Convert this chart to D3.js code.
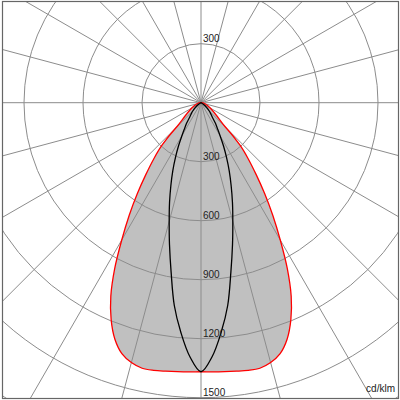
<!DOCTYPE html>
<html>
<head>
<meta charset="utf-8">
<script src="https://cdn.jsdelivr.net/npm/d3@7"></script>
<style>
  html, body { margin: 0; padding: 0; background: #fff; }
  svg { display: block; }
</style>
</head>
<body>
<div id="chart"></div>
<script>
// gamma angles (deg from nadir), 2.5 deg steps
const gammaAngles = [0, 2.5, 5, 7.5, 10, 12.5, 15, 17.5, 20, 22.5, 25, 27.5, 30, 32.5, 35, 37.5,
  40, 42.5, 45, 47.5, 50, 52.5, 55, 57.5, 60, 62.5, 65];
// C0-C180 plane (red, filled)
const planeC0 = [1368, 1370, 1373, 1377, 1382, 1383, 1368, 1338, 1280, 1194, 1085, 950, 806, 680,
  565, 461, 375, 295, 180, 0, 0, 0, 0, 0, 0, 0, 0];
// C90-C270 plane (black)
const planeC90 = [1368, 1293, 1173, 1040, 875, 740, 625, 532, 448, 375, 307, 248, 194, 155,
  128, 98, 82, 70, 58, 47, 37, 28, 20, 12, 5, 0, 0];
const ringValues = [300, 600, 900, 1200, 1500, 1800];
const unitLabel = "cd/klm";

const W = 400, H = 400;
const cx = 201, cy = 102.7;

const r = d3.scaleLinear().domain([0, 1500]).range([0, 295]);

const svg = d3.select("#chart").append("svg")
    .attr("width", W)
    .attr("height", H)
    .attr("font-family", "'Liberation Sans', Arial, sans-serif")
    .attr("font-size", 10);

svg.append("clipPath").attr("id", "frame-clip")
  .append("rect")
    .attr("x", 2.5).attr("y", 1.5).attr("width", 396).attr("height", 397);

const plot = svg.append("g").attr("clip-path", "url(#frame-clip)");
const g = plot.append("g").attr("transform", `translate(${cx},${cy})`);

// build closed outline: right side out to the centre, then left side back
function outline(values) {
  const pts = [];
  let last = values.findIndex(v => v === 0);
  if (last < 0) last = values.length - 1;
  for (let i = 0; i <= last; i++) pts.push([Math.PI - gammaAngles[i] * Math.PI / 180, r(values[i])]);
  for (let i = last - 1; i >= 1; i--) pts.push([Math.PI + gammaAngles[i] * Math.PI / 180, r(values[i])]);
  return pts;
}

const line = d3.lineRadial()
    .angle(d => d[0])
    .radius(d => d[1])
    .curve(d3.curveCatmullRomClosed.alpha(0.5));

// filled C0 curve under grid
g.append("path")
    .attr("d", line(outline(planeC0)))
    .attr("fill", "#c0c0c0")
    .attr("stroke", "none");

// grid: rings and spokes
g.selectAll("circle.ring")
  .data(ringValues)
  .join("circle")
    .attr("class", "ring")
    .attr("r", d => r(d))
    .attr("fill", "none")
    .attr("stroke", "#8c8c8c")
    .attr("stroke-width", 1);

g.selectAll("line.spoke")
  .data(d3.range(0, 180, 15))
  .join("line")
    .attr("class", "spoke")
    .attr("x1", d => -500 * Math.cos(d * Math.PI / 180))
    .attr("y1", d => -500 * Math.sin(d * Math.PI / 180))
    .attr("x2", d => 500 * Math.cos(d * Math.PI / 180))
    .attr("y2", d => 500 * Math.sin(d * Math.PI / 180))
    .attr("stroke", "#8c8c8c")
    .attr("stroke-width", 1);

// curves
g.append("path")
    .attr("d", line(outline(planeC0)))
    .attr("fill", "none")
    .attr("stroke", "#ff0000")
    .attr("stroke-width", 1.3);

g.append("path")
    .attr("d", line(outline(planeC90)))
    .attr("fill", "none")
    .attr("stroke", "#000")
    .attr("stroke-width", 1.3);

// ring labels above and below the centre (only those inside the frame)
const labels = ringValues.flatMap(v => [{v, s: -1}, {v, s: 1}])
    .filter(d => cy + d.s * r(d.v) - 2 > 12 && cy + d.s * r(d.v) - 2 < 398);
g.selectAll("text.lbl")
  .data(labels)
  .join("text")
    .attr("class", "lbl")
    .attr("x", 2)
    .attr("y", d => d.s * r(d.v) - 2)
    .attr("fill", "#222")
    .text(d => d.v);

svg.append("text")
    .attr("x", 395)
    .attr("y", 392)
    .attr("text-anchor", "end")
    .attr("fill", "#222")
    .text(unitLabel);

svg.append("rect")
    .attr("x", 2.5).attr("y", 1.5).attr("width", 396).attr("height", 397)
    .attr("fill", "none")
    .attr("stroke", "#666")
    .attr("stroke-width", 1.2);
</script>
</body>
</html>
